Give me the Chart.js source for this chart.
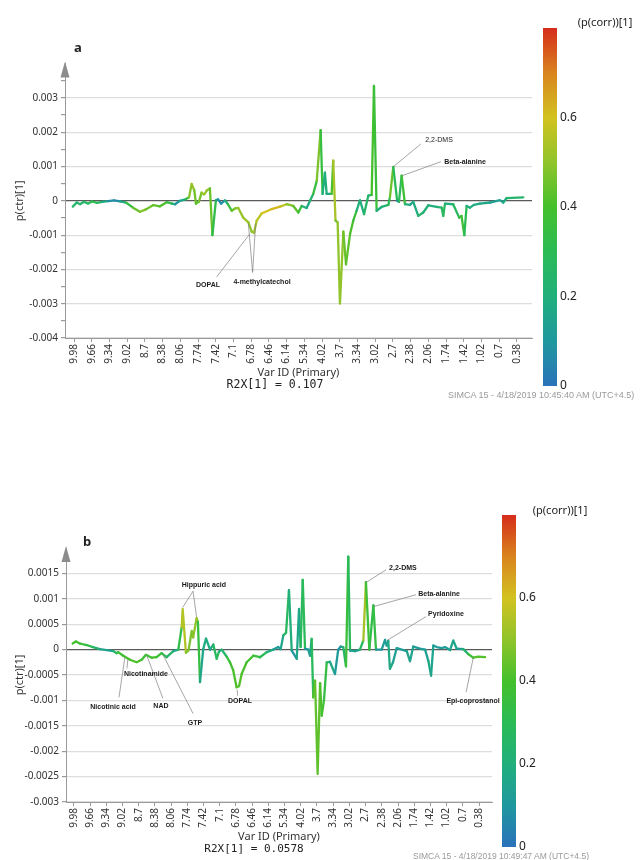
<!DOCTYPE html>
<html>
<head>
<meta charset="utf-8">
<script src="https://cdn.jsdelivr.net/npm/chart.js@4.4.1/dist/chart.umd.min.js"></script>
<style>
  body { margin: 0; background: #fff; }
  #page { position: relative; width: 641px; height: 860px; overflow: hidden; font-family: "Noto Sans", sans-serif; }
  #page canvas { position: absolute; }
  .t { position: absolute; white-space: nowrap; line-height: 1; transform: translate(-50%, -50%); color: #222; }
  .l { position: absolute; white-space: nowrap; line-height: 1; transform: translateY(-50%); }
</style>
</head>
<body>
<div id="page">
  <canvas id="chartA" width="641" height="400" style="left:0;top:0"></canvas>
  <canvas id="barA" width="111" height="400" style="left:530px;top:0"></canvas>
  <canvas id="chartB" width="641" height="400" style="left:0;top:460px"></canvas>
  <canvas id="barB" width="151" height="400" style="left:490px;top:460px"></canvas>

  <div class="t" style="left:78px;top:47px;font-weight:bold;font-size:13px">a</div>
  <div class="t" style="left:605px;top:21px;font-size:11px">(p(corr))[1]</div>
  <div class="t" style="left:275px;top:385px;font-family:'DejaVu Sans Mono';font-size:11.5px">R2X[1] = 0.107</div>
  <div class="l" style="left:448px;top:395px;font-family:'Liberation Sans';font-size:9px;color:#9a9a9a">SIMCA 15 - 4/18/2019 10:45:40 AM (UTC+4.5)</div>

  <div class="t" style="left:87px;top:541px;font-weight:bold;font-size:13px">b</div>
  <div class="t" style="left:560px;top:509px;font-size:11px">(p(corr))[1]</div>
  <div class="t" style="left:254px;top:848px;font-family:'DejaVu Sans Mono';font-size:11px">R2X[1] = 0.0578</div>
  <div class="l" style="left:413px;top:856px;font-family:'Liberation Sans';font-size:8.5px;color:#9a9a9a">SIMCA 15 - 4/18/2019 10:49:47 AM (UTC+4.5)</div>
</div>

<script>
// Var ID (ppm) labels shown on the x axis, one per tick
const xLabels = ['9.98', '9.66', '9.34', '9.02', '8.7', '8.38', '8.06', '7.74', '7.42', '7.1',
  '6.78', '6.46', '6.14', '5.34', '4.02', '3.7', '3.34', '3.02', '2.7', '2.38',
  '2.06', '1.74', '1.42', '1.02', '0.7', '0.38'];

// --- panel a: position (in label steps), p(ctr)[1], p(corr)[1] ---
const posA = [-0.07, 0.15, 0.34, 0.56, 0.79, 1.02, 1.30, 1.58, 1.92, 2.26,
  2.60, 2.93, 3.33, 3.72, 4.06, 4.48, 4.85, 5.23, 5.53, 5.70,
  5.98, 6.32, 6.49, 6.64, 6.79, 6.88, 7.05, 7.20, 7.34, 7.49,
  7.67, 7.81, 8.01, 8.13, 8.30, 8.52, 8.69, 8.90, 9.09, 9.27,
  9.55, 9.84, 10.03, 10.16, 10.31, 10.59, 11.16, 11.63, 12.00, 12.38,
  12.66, 12.85, 13.13, 13.32, 13.50, 13.70, 13.92, 14.03, 14.16, 14.26,
  14.54, 14.63, 14.76, 14.88, 15.01, 15.20, 15.35, 15.58, 15.76, 15.95,
  16.14, 16.37, 16.61, 16.80, 16.93, 17.08, 17.36, 17.74, 17.83, 18.02,
  18.24, 18.34, 18.49, 18.68, 18.96, 19.15, 19.43, 19.71, 20.00, 20.47,
  20.75, 20.84, 20.94, 21.40, 21.74, 21.87, 22.03, 22.16, 22.35, 22.57,
  22.91, 23.48, 24.04, 24.23, 24.42, 25.36];
const valA = [-0.00017, -0.00005, -0.00010, -0.00003, -0.00008, -0.00002, -0.00006, -0.00003, -0.00001, 0.00001,
  -0.00002, -0.00005, -0.00020, -0.00032, -0.00025, -0.000125, -0.00016, -0.00004, -0.00008, -0.00010,
  0, 0.00005, 0.00010, 0.00049, 0.00030, -0.00008, -0.00002, 0.00024, 0.00018, 0.00030,
  0.00036, -0.00100, 0.00002, 0.00004, -0.00008, 0.00001, -0.00010, -0.00029, -0.00022, -0.00021,
  -0.00049, -0.00063, -0.00090, -0.00093, -0.00058, -0.00037, -0.00024, -0.00017, -0.00010, -0.00015,
  -0.00034, -0.00015, -0.00021, 0, 0.00020, 0.00058, 0.00206, 0.00020, 0.00083, 0.00020,
  0.00020, 0.00117, -0.00058, -0.00063, -0.00300, -0.00090, -0.00185, -0.00097, -0.00058, -0.00029,
  0.00002, -0.00039, 0.00015, 0.00017, 0.00335, -0.00029, -0.00018, -0.00012, 0.00010, 0.00099,
  0, -0.00003, 0.00073, -0.00010, -0.00012, -0.00003, -0.00044, -0.00034, -0.00013, -0.00018,
  -0.00020, -0.00044, -0.00008, -0.00010, -0.00049, -0.00044, -0.00100, -0.00015, -0.00020, -0.00012,
  -0.00008, -0.00005, 0.00002, -0.00005, 0.00008, 0.00010];
const corrA = [0.22, 0.30, 0.18, 0.30, 0.22, 0.35, 0.28, 0.25, 0.10, 0.05,
  0.08, 0.25, 0.42, 0.48, 0.48, 0.42, 0.45, 0.38, 0.30, 0.12,
  0.08, 0.25, 0.45, 0.52, 0.50, 0.42, 0.42, 0.50, 0.52, 0.50,
  0.50, 0.40, 0.25, 0.08, 0.05, 0.10, 0.30, 0.42, 0.48, 0.50,
  0.52, 0.52, 0.48, 0.50, 0.55, 0.58, 0.62, 0.62, 0.52, 0.45,
  0.42, 0.30, 0.15, 0.20, 0.30, 0.40, 0.55, 0.15, 0.25, 0.15,
  0.20, 0.62, 0.45, 0.45, 0.55, 0.45, 0.45, 0.42, 0.40, 0.32,
  0.08, 0.32, 0.20, 0.25, 0.55, 0.18, 0.20, 0.25, 0.35, 0.55,
  0.05, 0.08, 0.50, 0.25, 0.18, 0.12, 0.25, 0.25, 0.18, 0.22,
  0.22, 0.35, 0.20, 0.20, 0.35, 0.35, 0.40, 0.20, 0.20, 0.18,
  0.18, 0.15, 0.12, 0.15, 0.22, 0.25];

// --- panel b ---
const posB = [-0.08, 0.12, 0.37, 0.78, 1.17, 1.60, 2.02, 2.43, 2.64, 2.73,
  3.04, 3.46, 3.87, 4.18, 4.44, 4.80, 5.10, 5.41, 5.72, 6.13,
  6.44, 6.65, 6.71, 6.91, 7.07, 7.27, 7.36, 7.57, 7.65, 7.78,
  7.98, 8.15, 8.40, 8.60, 8.81, 8.95, 9.12, 9.43, 9.63, 9.83,
  10.04, 10.19, 10.35, 10.66, 11.07, 11.48, 11.90, 12.30, 12.61, 12.76,
  12.92, 13.09, 13.27, 13.44, 13.75, 13.89, 13.99, 14.12, 14.26, 14.46,
  14.57, 14.67, 14.77, 14.88, 15.04, 15.19, 15.29, 15.43, 15.60, 15.80,
  16.11, 16.31, 16.46, 16.62, 16.79, 16.93, 17.04, 17.35, 17.65, 17.86,
  18.02, 18.23, 18.48, 18.64, 18.99, 19.20, 19.30, 19.40, 19.50, 19.69,
  19.92, 20.33, 20.54, 20.74, 20.94, 21.36, 21.67, 21.87, 22.04, 22.18,
  22.39, 22.70, 22.90, 23.21, 23.41, 23.62, 24.03, 24.34, 24.65, 24.94, 25.37];
const valB = [0.00012, 0.00016, 0.00012, 0.00009, 0.00005, 0.00001, -0.00001, -0.00003, -0.00007, -0.00005,
  -0.00012, -0.00020, -0.00025, -0.00020, -0.00010, -0.00016, -0.00015, -0.00007, -0.00015, -0.00003,
  0, 0.00044, 0.00080, -0.00006, -0.00002, 0.00037, 0.00024, 0.00062, 0.00055, -0.00064,
  0.00001, 0.00022, 0, 0.00010, -0.00018, -0.00004, 0, -0.00014, -0.00025, -0.00041,
  -0.00074, -0.00072, -0.00048, -0.00025, -0.00012, -0.00015, -0.00005, 0, 0.00005, 0.00001,
  0.00028, 0.00033, 0.00117, -0.00002, -0.00018, 0.00080, 0.00005, 0.00137, 0.00002, 0,
  -0.00012, 0.00021, -0.00094, -0.00061, -0.00245, -0.00066, -0.00130, -0.00100, -0.00025, -0.00024,
  -0.00048, 0, 0.00006, 0.00005, -0.00033, 0.00183, -0.00002, -0.00003, 0, 0.00018,
  0.00133, 0, 0.00087, 0, 0, 0.00019, 0.00008, 0.00017, -0.00038, -0.00025,
  0.00003, -0.00001, -0.00003, -0.00023, 0.00006, 0.00002, 0, -0.00022, -0.00051, 0.00008,
  0.00005, 0.00003, 0.00005, -0.00001, 0.00018, 0.00002, 0.00001, -0.00009, -0.00016, -0.00014, -0.00015];
const corrB = [0.40, 0.40, 0.38, 0.35, 0.30, 0.18, 0.12, 0.18, 0.30, 0.35,
  0.40, 0.40, 0.42, 0.40, 0.35, 0.40, 0.40, 0.35, 0.30, 0.20,
  0.15, 0.50, 0.60, 0.50, 0.45, 0.50, 0.45, 0.55, 0.50, 0.20,
  0.12, 0.25, 0.12, 0.22, 0.32, 0.25, 0.15, 0.32, 0.38, 0.40,
  0.42, 0.42, 0.42, 0.40, 0.38, 0.35, 0.25, 0.15, 0.10, 0.10,
  0.22, 0.25, 0.30, 0.10, 0.08, 0.25, 0.08, 0.48, 0.10, 0.10,
  0.15, 0.15, 0.42, 0.42, 0.45, 0.42, 0.40, 0.38, 0.30, 0.20,
  0.15, 0.08, 0.10, 0.15, 0.35, 0.38, 0.18, 0.12, 0.15, 0.40,
  0.66, 0.08, 0.58, 0.10, 0.10, 0.12, 0.12, 0.15, 0.20, 0.15,
  0.12, 0.12, 0.12, 0.18, 0.12, 0.12, 0.12, 0.15, 0.18, 0.12,
  0.12, 0.12, 0.12, 0.12, 0.20, 0.12, 0.15, 0.30, 0.42, 0.42, 0.42];

// labelled y ticks
const yMajorA = [-0.004, -0.003, -0.002, -0.001, 0, 0.001, 0.002, 0.003];
const yMajorB = [-0.003, -0.0025, -0.002, -0.0015, -0.001, -0.0005, 0, 0.0005, 0.001, 0.0015];

// colour bar ticks
const cbTicks = [0, 0.2, 0.4, 0.6];
const cbLabels = ['0', '0.2', '0.4', '0.6'];

// metabolite labels: text anchor and leader lines, in data units
const notesA = [
  { text: 'DOPAL', at: [7.56, -0.00245], lines: [[8.05, -0.00222, 9.93, -0.00096]] },
  { text: '4-methylcatechol', at: [10.61, -0.00236], lines: [[10.08, -0.00209, 9.84, -0.00066], [10.08, -0.00209, 10.25, -0.00066]] },
  { text: '2,2-DMS', at: [20.6, 0.00178], lines: [[18.02, 0.00099, 19.58, 0.00166]], bold: false },
  { text: 'Beta-alanine', at: [22.07, 0.00114], lines: [[18.51, 0.00073, 20.71, 0.00114]] }
];
const notesB = [
  { text: 'Hippuric acid', at: [8.02, 0.00128], lines: [[7.35, 0.00115, 6.71, 0.00083], [7.35, 0.00115, 7.57, 0.00064]] },
  { text: 'Nicotinamide', at: [4.44, -0.00049], lines: [[3.27, -0.00037, 3.33, -0.00018]] },
  { text: 'Nicotinic acid', at: [2.41, -0.00114], lines: [[2.78, -0.00094, 3.15, -0.00014]] },
  { text: 'NAD', at: [5.37, -0.00112], lines: [[5.49, -0.00096, 4.50, -0.00012]] },
  { text: 'GTP', at: [7.47, -0.00144], lines: [[7.35, -0.00126, 5.49, -0.00010]] },
  { text: 'DOPAL', at: [10.25, -0.00102], lines: [[10.10, -0.00091, 10.08, -0.00079]] },
  { text: '2,2-DMS', at: [20.3, 0.00161], lines: [[18.02, 0.00132, 19.26, 0.00157]] },
  { text: 'Beta-alanine', at: [22.53, 0.0011], lines: [[18.52, 0.00085, 21.11, 0.00108]] },
  { text: 'Pyridoxine', at: [22.96, 0.00069], lines: [[19.32, 0.00018, 21.73, 0.00065]] },
  { text: 'Epi-coprostanol', at: [24.63, -0.00102], lines: [[24.20, -0.00084, 24.65, -0.00015]] }
];

// SIMCA-like colour map for p(corr)
const cmapStops = [[0, '#2a72ba'], [0.1, '#1f989e'], [0.2, '#21af7c'], [0.3, '#2bbb55'],
  [0.4, '#44c02c'], [0.5, '#90c42a'], [0.6, '#d2c220'], [0.7, '#d9841e'], [0.8, '#d52c1b']];

function rgb(h) {
  return [parseInt(h.slice(1, 3), 16), parseInt(h.slice(3, 5), 16), parseInt(h.slice(5, 7), 16)];
}
function cmap(v) {
  v = Math.max(0, Math.min(0.8, v));
  for (let i = 1; i < cmapStops.length; i++) {
    const [p1, c1] = cmapStops[i];
    const [p0, c0] = cmapStops[i - 1];
    if (v <= p1) {
      const f = (v - p0) / (p1 - p0);
      const a = rgb(c0), b = rgb(c1);
      return 'rgb(' + a.map((x, k) => Math.round(x + (b[k] - x) * f)).join(',') + ')';
    }
  }
  return cmapStops[cmapStops.length - 1][1];
}

const fmt = v => String(parseFloat(v.toFixed(4)));
const font = size => ({ family: '"Noto Sans", sans-serif', size: size });

// leader lines, labels and the arrow on top of the y axis
const decor = {
  id: 'decor',
  afterDatasetsDraw(chart, args, opts) {
    const ctx = chart.ctx, xs = chart.scales.x, ys = chart.scales.y;
    ctx.save();
    (opts.notes || []).forEach(n => {
      ctx.strokeStyle = '#808080';
      ctx.lineWidth = 0.7;
      n.lines.forEach(l => {
        ctx.beginPath();
        ctx.moveTo(xs.getPixelForValue(l[0]), ys.getPixelForValue(l[1]));
        ctx.lineTo(xs.getPixelForValue(l[2]), ys.getPixelForValue(l[3]));
        ctx.stroke();
      });
      ctx.font = (n.bold === false ? '' : 'bold ') + '7px "Liberation Sans", sans-serif';
      ctx.fillStyle = '#1a1a1a';
      ctx.textAlign = 'center';
      ctx.textBaseline = 'middle';
      ctx.fillText(n.text, xs.getPixelForValue(n.at[0]), ys.getPixelForValue(n.at[1]));
    });
    ctx.restore();
  },
  afterDraw(chart) {
    const { left, top } = chart.chartArea;
    const ctx = chart.ctx;
    ctx.save();
    ctx.fillStyle = '#8c8c8c';
    ctx.beginPath();
    ctx.moveTo(left, top - 2);
    ctx.lineTo(left - 4.5, top + 14);
    ctx.lineTo(left + 4.5, top + 14);
    ctx.closePath();
    ctx.fill();
    ctx.restore();
  }
};

function spectrum(id, pos, val, corr, majors, notes, box) {
  const isMajor = v => majors.some(m => Math.abs(m - v) < 1e-9);
  const half = (majors[1] - majors[0]) / 2;
  const yAll = [];
  for (let v = box.yMin; v < box.yMax - 1e-9; v += half) yAll.push(parseFloat(v.toFixed(5)));

  new Chart(document.getElementById(id), {
    type: 'line',
    data: {
      datasets: [{
        data: pos.map((p, i) => ({ x: p, y: val[i] })),
        borderWidth: 2.3,
        pointRadius: 0,
        tension: 0,
        fill: false,
        borderCapStyle: 'round',
        borderJoinStyle: 'round',
        segment: {
          borderColor: c => cmap((corr[c.p0DataIndex] + corr[c.p1DataIndex]) / 2)
        }
      }]
    },
    options: {
      responsive: false,
      animation: false,
      events: [],
      layout: { padding: { left: 0, top: box.top, right: box.right, bottom: 0 } },
      plugins: { legend: { display: false }, tooltip: { enabled: false }, decor: { notes: notes } },
      scales: {
        x: {
          type: 'linear', min: box.xMin, max: box.xMax,
          afterBuildTicks: s => { s.ticks = xLabels.map((_, i) => ({ value: i })); },
          afterFit: s => { s.height = box.xAxisH; },
          ticks: { autoSkip: false, minRotation: 90, maxRotation: 90, padding: 2, color: '#333', font: font(10),
            callback: (v, i) => xLabels[i] },
          grid: { drawOnChartArea: false, drawTicks: true, tickLength: 4, tickColor: '#9a9a9a' },
          border: { color: '#9a9a9a' },
          title: { display: true, text: 'Var ID (Primary)', color: '#333', font: font(11),
            padding: { top: 0, bottom: box.xTitlePad } }
        },
        y: {
          min: box.yMin, max: box.yMax,
          afterBuildTicks: s => { s.ticks = yAll.map(v => ({ value: v })); },
          afterFit: s => { s.width = box.yAxisW; },
          ticks: { padding: 3, color: '#333', font: font(10), callback: v => isMajor(v) ? fmt(v) : '' },
          grid: {
            color: c => {
              if (!c.tick) return 'rgba(0,0,0,0)';
              if (Math.abs(c.tick.value) < 1e-9) return '#5a5a5a';
              return isMajor(c.tick.value) ? '#dddddd' : 'rgba(0,0,0,0)';
            },
            lineWidth: 1.2,
            tickLength: 4,
            tickColor: '#9a9a9a'
          },
          border: { color: '#9a9a9a' },
          title: { display: true, text: 'p(ctr)[1]', color: '#333', font: font(11),
            padding: { top: box.yTitlePad, bottom: 0 } }
        }
      }
    },
    plugins: [decor]
  });
}

function colorBar(id, box) {
  new Chart(document.getElementById(id), {
    type: 'bar',
    data: {
      labels: [''],
      datasets: [{
        data: [[0, 0.8]],
        barPercentage: 1,
        categoryPercentage: 1,
        borderWidth: 0,
        backgroundColor: c => {
          const ch = c.chart;
          if (!ch.chartArea) return 'rgba(0,0,0,0)';
          const y = ch.scales.y;
          const g = ch.ctx.createLinearGradient(0, y.getPixelForValue(0), 0, y.getPixelForValue(0.8));
          cmapStops.forEach(([p, col]) => g.addColorStop(p / 0.8, col));
          return g;
        }
      }]
    },
    options: {
      responsive: false,
      animation: false,
      events: [],
      layout: { padding: { left: box.left, top: box.top, bottom: box.bottom, right: 0 } },
      plugins: { legend: { display: false }, tooltip: { enabled: false } },
      scales: {
        x: { display: false },
        y: {
          position: 'right', min: 0, max: 0.8,
          afterFit: s => { s.width = box.axisW; },
          afterBuildTicks: s => { s.ticks = cbTicks.map(v => ({ value: v })); },
          ticks: { padding: 3, color: '#222', font: font(12), callback: (v, i) => cbLabels[i] },
          grid: { display: false, drawTicks: false },
          border: { display: false }
        }
      }
    }
  });
}

spectrum('chartA', posA, valA, corrA, yMajorA, notesA, {
  top: 63.6, right: 109, xMin: -0.51, xMax: 25.85, yMin: -0.004, yMax: 0.004,
  xAxisH: 62, yAxisW: 65, xTitlePad: 20.4, yTitlePad: 13.4
});
spectrum('chartB', posB, valB, corrB, yMajorB, notesB, {
  top: 88, right: 149, xMin: -0.49, xMax: 25.8, yMin: -0.003, yMax: 0.002,
  xAxisH: 58, yAxisW: 66, xTitlePad: 16.4, yTitlePad: 13.4
});
colorBar('barA', { left: 13, top: 28, bottom: 14, axisW: 84 });
colorBar('barB', { left: 12, top: 55, bottom: 13, axisW: 125 });
</script>
</body>
</html>
